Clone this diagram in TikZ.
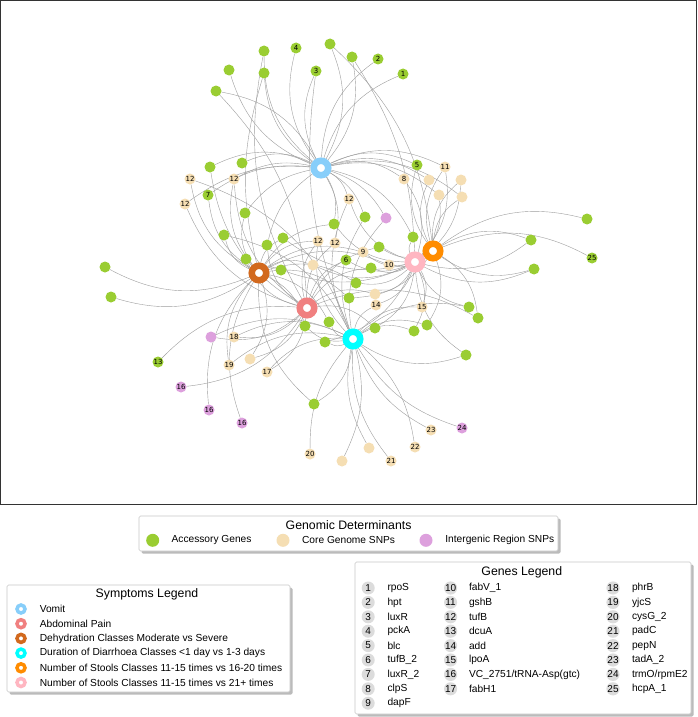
\documentclass[tikz,border=0pt]{standalone}
\usepackage{fontspec}
\setmainfont{Liberation Sans}
\newfontfamily\nodefont{DejaVu Sans}
\usetikzlibrary{backgrounds}
\definecolor{accg}{HTML}{9ACD32}
\definecolor{coreg}{HTML}{F5DEB3}
\definecolor{interg}{HTML}{DDA0DD}
\definecolor{hubV}{HTML}{87CEFA}
\definecolor{hubA}{HTML}{F08080}
\definecolor{hubD}{HTML}{D2691E}
\definecolor{hubC}{HTML}{00FFFF}
\definecolor{hubO}{HTML}{FF8C00}
\definecolor{hubK}{HTML}{FFB6C1}
\definecolor{legc}{HTML}{DCDCDC}
\definecolor{boxline}{HTML}{C8C8C8}
\definecolor{shadowc}{HTML}{BBBBBB}
\begin{document}
\begin{tikzpicture}[x=1pt,y=-1pt,
  gn/.style={circle, inner sep=0pt, minimum size=11pt, text=black, font=\nodefont\fontsize{7}{7}\selectfont},
  acc/.style={gn, fill=accg},
  cor/.style={gn, fill=coreg},
  itg/.style={gn, fill=interg},
  hub/.style={circle, fill=white, line width=6.5pt, minimum size=14.5pt, inner sep=0pt},
  edge/.style={draw=black!38, line width=0.4pt},
  legbox/.style={draw=boxline, fill=white, line width=0.6pt, rounded corners=1.5pt},
  legshadow/.style={fill=shadowc, rounded corners=1.5pt},
  legtitle/.style={font=\fontsize{12.3}{14}\selectfont, inner sep=0pt},
  legtext/.style={font=\fontsize{10.2}{12}\selectfont, inner sep=0pt, anchor=west},
  legdot/.style={circle, inner sep=0pt, minimum size=13pt},
  legring/.style={circle, fill=white, line width=3.5pt, minimum size=8pt, inner sep=0pt},
  legnum/.style={circle, fill=legc, inner sep=0pt, minimum size=13pt, font=\fontsize{10}{10}\selectfont}
]
\useasboundingbox (0,0) rectangle (698,717);
% frame of graph
\draw[line width=1.3pt, draw=black!80] (0.7,0.7) rectangle (696.4,504.4);

% ---------------- gene nodes ----------------
\node[acc] (n1) at (403,74) {1};
\node[acc] (n2) at (378,59) {2};
\node[acc] (n3) at (316,71) {3};
\node[acc] (n4) at (296,48) {4};
\node[acc] (n5) at (264,51) {};
\node[acc] (n6) at (330,44) {};
\node[acc] (n7) at (229,70) {};
\node[acc] (n8) at (264,73) {};
\node[acc] (n9) at (216,91) {};
\node[acc] (n10) at (352,57) {};
\node[acc] (n11) at (242,163) {};
\node[acc] (n12) at (210,167) {};
\node[cor] (n13) at (190,179) {12};
\node[cor] (n14) at (234,179) {12};
\node[acc] (n15) at (208,195) {7};
\node[cor] (n16) at (185,204) {12};
\node[acc] (n17) at (417,165) {5};
\node[cor] (n18) at (445,167) {11};
\node[cor] (n19) at (404,179) {8};
\node[cor] (n20) at (429,180) {};
\node[cor] (n21) at (461,180) {};
\node[cor] (n22) at (439,195) {};
\node[cor] (n23) at (462,197) {};
\node[cor] (n24) at (349,199) {12};
\node[acc] (n25) at (245,213) {};
\node[acc] (n26) at (334,224) {};
\node[acc] (n27) at (224,235) {};
\node[acc] (n28) at (267,245) {};
\node[acc] (n29) at (283,238) {};
\node[cor] (n30) at (318,241) {12};
\node[cor] (n31) at (335,243) {12};
\node[acc] (n32) at (246,259) {};
\node[cor] (n33) at (313,265) {};
\node[acc] (n34) at (346,260) {6};
\node[acc] (n35) at (281,270) {};
\node[acc] (n36) at (365,217) {};
\node[itg] (n37) at (386,218) {};
\node[acc] (n38) at (413,237) {};
\node[acc] (n39) at (379,247) {};
\node[cor] (n40) at (363,252) {9};
\node[acc] (n41) at (371,268) {};
\node[cor] (n42) at (389,265) {10};
\node[acc] (n43) at (356,283) {};
\node[cor] (n44) at (375,294) {};
\node[acc] (n45) at (349,298) {};
\node[cor] (n46) at (376,305) {14};
\node[cor] (n47) at (422,307) {15};
\node[acc] (n48) at (469,307) {};
\node[acc] (n49) at (478,318) {};
\node[acc] (n50) at (375,328) {};
\node[acc] (n51) at (427,325) {};
\node[acc] (n52) at (414,331) {};
\node[acc] (n53) at (329,322) {};
\node[acc] (n54) at (305,326) {};
\node[acc] (n55) at (325,342) {};
\node[acc] (n56) at (587,219) {};
\node[acc] (n57) at (531,240) {};
\node[acc] (n58) at (592,258) {25};
\node[acc] (n59) at (534,269) {};
\node[acc] (n60) at (466,355) {};
\node[acc] (n61) at (105,267) {};
\node[acc] (n62) at (111,297) {};
\node[itg] (n63) at (211,337) {};
\node[cor] (n64) at (234,337) {18};
\node[acc] (n65) at (158,362) {13};
\node[cor] (n66) at (229,365) {19};
\node[cor] (n67) at (250,359) {};
\node[cor] (n68) at (267,372) {17};
\node[itg] (n69) at (181,387) {16};
\node[itg] (n70) at (209,410) {16};
\node[itg] (n71) at (242,423) {16};
\node[acc] (n72) at (314,404) {};
\node[cor] (n73) at (310,454) {20};
\node[cor] (n74) at (342,461) {};
\node[cor] (n75) at (369,448) {};
\node[cor] (n76) at (391,461) {21};
\node[cor] (n77) at (415,447) {22};
\node[cor] (n78) at (431,430) {23};
\node[itg] (n79) at (462,428) {24};

% ---------------- hubs ----------------
\node[hub, draw=hubV] (V) at (321,168) {};
\node[hub, draw=hubO] (O) at (433,251) {};
\node[hub, draw=hubK] (K) at (415,262) {};
\node[hub, draw=hubD] (D) at (259,273) {};
\node[hub, draw=hubA] (A) at (307,308) {};
\node[hub, draw=hubC] (C) at (353,339) {};

% ---------------- edges ----------------
\begin{pgfonlayer}{background}
\fill[white] (0,0) rectangle (698,717);
\foreach \a/\b/\c in {
 n1/V/25, n2/V/25, n3/V/25, n4/V/25, n5/V/25, n6/V/-25, n7/V/25, n8/V/25, n9/V/-25, n10/V/-25,
 n5/A/20, n6/O/-20, n8/D/15, n10/K/-15, n3/C/15,
 n11/V/-25, n12/V/-25, n14/V/-20, n15/V/-20, n16/V/-20,
 n17/V/25, n18/V/25, n19/V/25, n20/V/25, n22/V/25, n23/V/25, n24/V/20,
 n25/V/-20, n28/V/-20, n31/V/20, n36/V/20, n37/V/20, n38/V/25, n26/V/20,
 n13/D/25, n14/D/25, n15/D/25, n25/D/25, n26/D/25, n27/D/25, n29/D/25, n30/D/25,
 n32/D/25, n33/D/25, n35/D/25, n40/D/25, n42/D/25, n43/D/25, n45/D/25, n53/D/25,
 n54/D/25, n61/D/25, n62/D/25, n66/D/-25, n67/D/25, n70/D/-25, n71/D/-25, n72/D/-25,
 n9/A/-20, n12/A/25, n14/A/25, n16/A/25, n28/A/25, n30/A/25, n31/A/25, n32/A/25,
 n34/A/25, n39/A/25, n41/A/25, n44/A/25, n49/A/25, n50/A/25, n63/A/25, n64/A/25,
 n65/A/-25, n67/A/25, n68/A/25, n69/A/25,
 n13/C/-25, n24/C/25, n27/C/-25, n30/C/25, n36/C/25, n37/C/25, n46/C/25, n47/C/25,
 n48/C/25, n51/C/25, n52/C/25, n53/C/25, n54/C/25, n55/C/25, n60/C/-25, n63/C/-25,
 n64/C/-25, n66/C/-25, n68/C/-25, n72/C/25,
 n73/C/-20, n74/C/20, n75/C/-20, n76/C/-20, n77/C/20, n78/C/-20, n79/C/-20,
 n17/O/25, n18/O/25, n20/O/25, n21/O/25, n23/O/25, n35/O/25, n39/O/25, n42/O/25,
 n45/O/25, n49/O/25, n51/O/25, n56/O/25, n57/O/25, n58/O/25, n59/O/-25,
 n18/K/-25, n19/K/-25, n21/K/-25, n22/K/-25, n24/K/25, n26/K/25, n29/K/25, n33/K/25,
 n34/K/25, n38/K/25, n40/K/25, n41/K/25, n43/K/25, n44/K/25, n46/K/25, n47/K/25,
 n48/K/-25, n50/K/25, n52/K/25, n55/K/25, n57/K/-25, n59/K/-25, n60/K/-25}
 { \draw[edge] (\a) to[bend right=\c] (\b); }
\end{pgfonlayer}

% ---------------- Genomic Determinants legend ----------------
\fill[legshadow] (141.5,518.5) rectangle (560.5,553.5);
\draw[legbox] (139,516) rectangle (558,551);
\node[legtitle] (gdt) at (348.6,525) {Genomic Determinants};
\node[legdot, fill=accg] (gd1) at (152.7,540.3) {};
\node[legtext] (gd1t) at (171.4,540.3) {Accessory Genes};
\node[legdot, fill=coreg] (gd2) at (283,540.3) {};
\node[legtext] (gd2t) at (301.9,540.3) {Core Genome SNPs};
\node[legdot, fill=interg] (gd3) at (426,540.3) {};
\node[legtext] (gd3t) at (445.2,540.3) {Intergenic Region SNPs};

% ---------------- Symptoms legend ----------------
\fill[legshadow] (9.5,587.5) rectangle (292.5,694.5);
\draw[legbox] (7,585) rectangle (290,692);
\node[legtitle] (slt) at (147,594) {Symptoms Legend};
\foreach \col/\lbl [count=\i from 0] in {
  hubV/Vomit,
  hubA/Abdominal Pain,
  hubD/Dehydration Classes Moderate vs Severe,
  hubC/Duration of Diarrhoea Classes <1 day vs 1-3 days,
  hubO/Number of Stools Classes 11-15 times vs 16-20 times,
  hubK/Number of Stools Classes 11-15 times vs 21+ times}
{
  \node[legring, draw=\col] (sr\i) at (21,609+14.7*\i) {};
  \node[legtext] (st\i) at (39.6,609+14.7*\i) {\lbl};
}

% ---------------- Genes legend ----------------
\fill[legshadow] (357.5,564.5) rectangle (693.5,716.5);
\draw[legbox] (355,562) rectangle (691,714);
\node[legtitle] (glt) at (521.8,572) {Genes Legend};
\foreach \n/\lbl [count=\i from 0] in {1/rpoS, 2/hpt, 3/luxR, 4/pckA, 5/blc, 6/tufB\_2, 7/luxR\_2, 8/clpS, 9/dapF}
{
  \node[legnum] (gl\n) at (368.2,588+14.4*\i) {\n};
  \node[legtext] (gt\n) at (387.3,588+14.4*\i) {\lbl};
}
\foreach \n/\lbl [count=\i from 0] in {10/fabV\_1, 11/gshB, 12/tufB, 13/dcuA, 14/add, 15/lpoA, 16/{VC\_2751/tRNA-Asp(gtc)}, 17/fabH1}
{
  \node[legnum] (gl\n) at (450.6,588+14.4*\i) {\n};
  \node[legtext] (gt\n) at (468.8,588+14.4*\i) {\lbl};
}
\foreach \n/\lbl [count=\i from 0] in {18/phrB, 19/yjcS, 20/cysG\_2, 21/padC, 22/pepN, 23/tadA\_2, 24/{trmO/rpmE2}, 25/hcpA\_1}
{
  \node[legnum] (gl\n) at (613,588+14.4*\i) {\n};
  \node[legtext] (gt\n) at (631.8,588+14.4*\i) {\lbl};
}
\end{tikzpicture}
\end{document}
